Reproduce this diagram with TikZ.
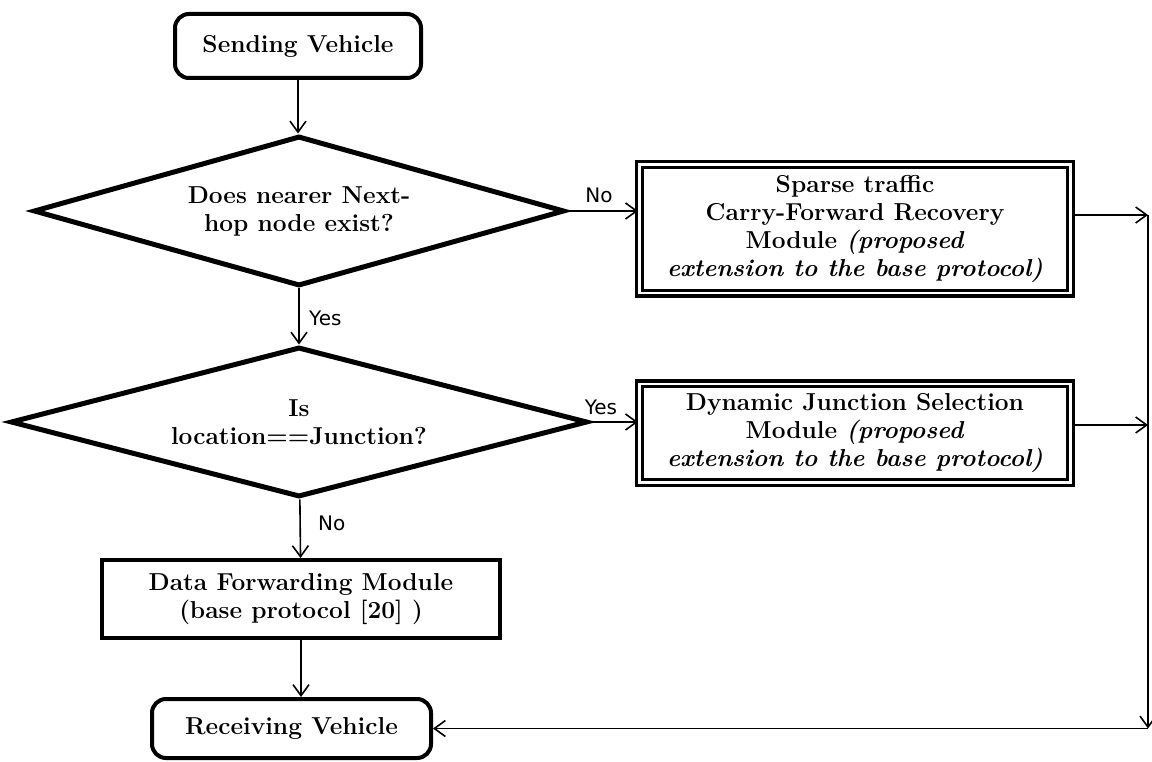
\documentclass[tikz,border=0pt]{standalone}
\usepackage{fontspec}
\newfontfamily\labelfont{DejaVu Sans}
\usetikzlibrary{shapes.geometric,arrows.meta}
\begin{document}
\begin{tikzpicture}[x=1pt,y=-1pt,
  every node/.style={font=\fontsize{24.5}{28}\selectfont\bfseries, align=center, inner sep=0pt},
  terminal/.style={draw, line width=4pt, rounded corners=14pt},
  decision/.style={draw, diamond, aspect=3.5, line width=5pt},
  module/.style={draw, line width=3.2pt, double, double distance=2.5pt, minimum width=431pt},
  basebox/.style={draw, line width=4pt},
  arr/.style={line width=1.6pt, -{Straight Barb[length=11pt,width=16pt,line width=1.6pt]}},
  lbl/.style={font=\labelfont\fontsize{20}{23}\selectfont}
]
\useasboundingbox (0,0) rectangle (1152,762);

% start and end terminals
\node[terminal, minimum width=246pt, minimum height=64pt] (sv) at (298,46) {Sending Vehicle};
\node[terminal, minimum width=279pt, minimum height=59pt] (rv) at (291.5,728.5) {Receiving Vehicle};

% decisions
\node[decision, minimum width=531pt, minimum height=150pt] (d1) at (299,211)
  {Does nearer Next-\\hop node exist?};
\node[decision, minimum width=577pt, minimum height=150pt] (d2) at (299,422)
  {Is\\location==Junction?};

% processing modules
\node[module, minimum height=128.5pt] (b1) at (855,229)
  {Sparse traffic\\Carry-Forward Recovery\\Module \textit{(proposed}\\\textit{extension to the base protocol)}};
\node[module, minimum height=98.5pt] (b2) at (855,433)
  {Dynamic Junction Selection\\Module \textit{(proposed}\\\textit{extension to the base protocol)}};
\node[basebox, minimum width=398pt, minimum height=78pt] (dfm) at (301,599)
  {Data Forwarding Module\\(base protocol [20] )};

% main flow
\draw[arr] (sv) -- (sv |- d1.north);
\draw[arr] (d1) -- (d2);
\draw[arr] (d2) -- (dfm);
\draw[arr] (dfm) -- (dfm |- rv.north);
\draw[arr] (d1.east) -- (d1.east -| b1.west);
\draw[arr] (d2.east) -- (d2.east -| b2.west);

% return path on the right
\coordinate (rtop) at (1148,215);
\coordinate (rmid) at (1148,425);
\coordinate (rbot) at (1148,728.5);
\draw[arr] (rtop -| b1.east) -- (rtop);
\draw[arr] (rmid -| b2.east) -- (rmid);
\draw[arr] (rtop) -- (rbot);
\draw[arr] (rbot) -- (rv.east);

% branch labels
\node[lbl, anchor=west] (yes1) at (309,318) {Yes};
\node[lbl] (no1) at (599,195) {No};
\node[lbl] (yes2) at (601,407) {Yes};
\node[lbl, anchor=west] (no2) at (318,523) {No};
\end{tikzpicture}
\end{document}
